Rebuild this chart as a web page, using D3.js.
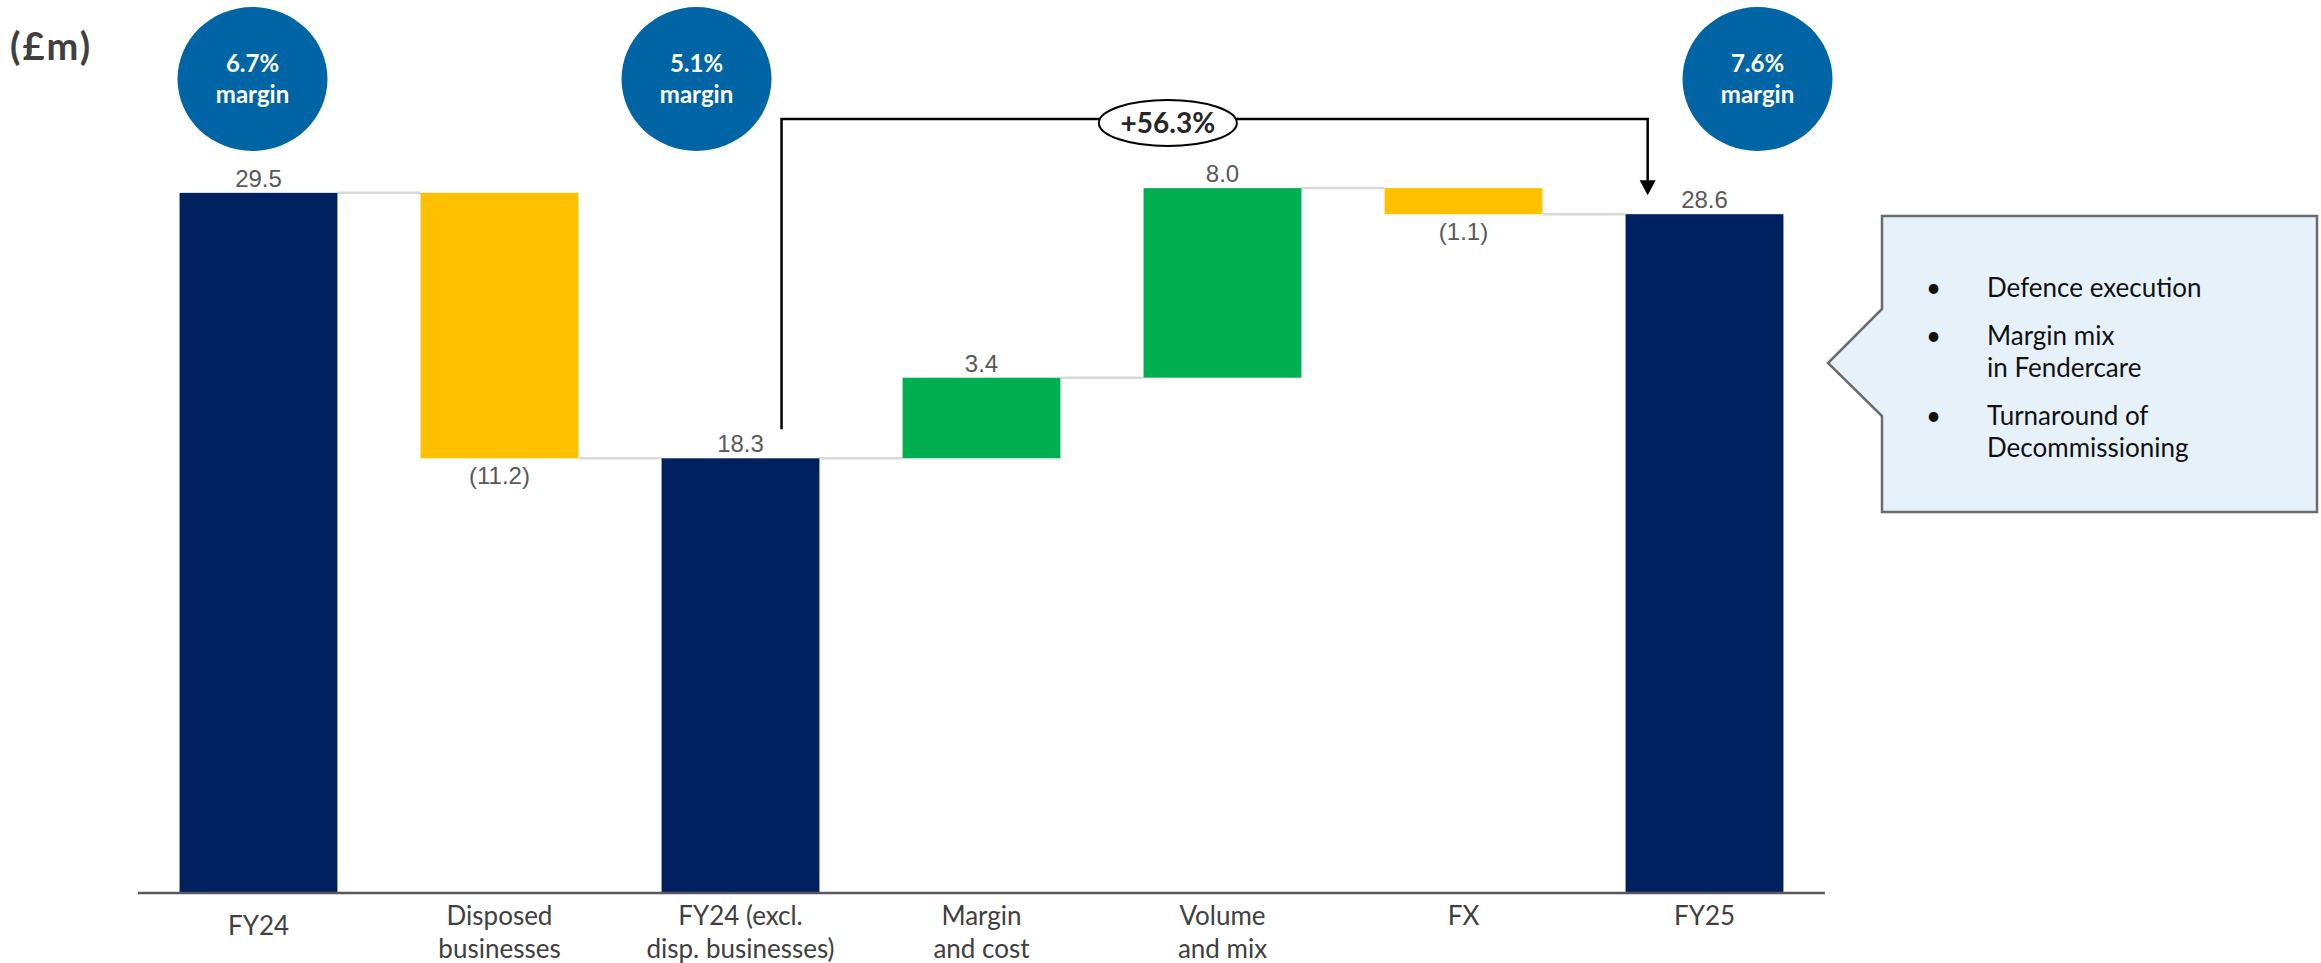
<!DOCTYPE html>
<html lang="en">
<head>
  <meta charset="UTF-8">
  <title>Underlying operating profit bridge</title>
  <script src="https://d3js.org/d3.v7.min.js"></script>
  <style>
    html, body { margin: 0; padding: 0; background: #fff; }
    svg { display: block; }
    .val { font-family: "Liberation Sans", Arial, sans-serif; font-size: 24px; fill: #595959; text-anchor: middle; }
    .cat { font-family: Lato, sans-serif; font-size: 26px; fill: #404040; text-anchor: middle; }
    .bubble-text { font-family: Lato, sans-serif; font-weight: bold; font-size: 24px; fill: #fff; text-anchor: middle; }
    .note { font-family: Lato, sans-serif; font-size: 26px; fill: #111; }
  </style>
</head>
<body>
  <svg width="2321" height="963"></svg>
  <script>
    // bridge data (£m)
    const categories = ["FY24", "Disposed businesses", "FY24 (excl. disp. businesses)", "Margin and cost", "Volume and mix", "FX", "FY25"];
    const labelLines = [["FY24"], ["Disposed", "businesses"], ["FY24 (excl.", "disp. businesses)"], ["Margin", "and cost"], ["Volume", "and mix"], ["FX"], ["FY25"]];
    const values = [29.5, -11.2, 18.3, 3.4, 8.0, -1.1, 28.6];
    const isTotal = [true, false, true, false, false, false, true];
    const valueLabels = ["29.5", "(11.2)", "18.3", "3.4", "8.0", "(1.1)", "28.6"];

    // margin bubbles
    const bubbleCats = ["FY24", "FY24 (excl. disp. businesses)", "FY25"];
    const bubbleText = ["6.7%", "5.1%", "7.6%"];
    const bubbleShift = [-6, -44, 53];

    const growthLabel = "+56.3%";
    const notes = [["Defence execution"], ["Margin mix", "in Fendercare"], ["Turnaround of", "Decommissioning"]];

    const colNavy = "#002060", colUp = "#00B050", colDown = "#FFC000";

    const svg = d3.select("svg");
    const x = d3.scaleBand().domain(categories).range([138, 1825]).paddingInner(0.345).paddingOuter(0.1725);
    const y = d3.scaleLinear().domain([0, 30]).range([892, 181]);

    // running totals
    let run = 0;
    const bars = categories.map((c, i) => {
      let y0, y1;
      if (isTotal[i]) { y0 = 0; y1 = values[i]; run = values[i]; }
      else { y0 = run; y1 = run + values[i]; run = y1; }
      return { cat: c, y0, y1, v: values[i], total: isTotal[i], label: valueLabels[i], end: run };
    });

    // connectors
    svg.append("g").selectAll("line").data(bars.slice(0, -1)).join("line")
      .attr("x1", d => x(d.cat) + x.bandwidth())
      .attr("x2", (d, i) => x(categories[i + 1]))
      .attr("y1", d => y(d.end)).attr("y2", d => y(d.end))
      .attr("stroke", "#d9d9d9").attr("stroke-width", 2.5);

    // bars
    svg.append("g").selectAll("rect").data(bars).join("rect")
      .attr("x", d => x(d.cat))
      .attr("width", x.bandwidth())
      .attr("y", d => y(Math.max(d.y0, d.y1)))
      .attr("height", d => Math.abs(y(d.y0) - y(d.y1)))
      .attr("fill", d => d.total ? colNavy : (d.v >= 0 ? colUp : colDown));

    // value labels
    svg.append("g").selectAll("text").data(bars).join("text")
      .attr("class", "val")
      .attr("x", d => x(d.cat) + x.bandwidth() / 2)
      .attr("y", d => d.v >= 0 ? y(Math.max(d.y0, d.y1)) - 6 : y(Math.min(d.y0, d.y1)) + 26)
      .text(d => d.label);

    // axis line
    svg.append("line").attr("x1", 138).attr("x2", 1825).attr("y1", y(0) + 1).attr("y2", y(0) + 1)
      .attr("stroke", "#595959").attr("stroke-width", 2.5);

    // category labels
    const cat = svg.append("g").selectAll("text").data(categories).join("text")
      .attr("class", "cat")
      .attr("x", d => x(d) + x.bandwidth() / 2)
      .attr("y", (d, i) => i === 0 ? 935 : 925);
    cat.selectAll("tspan").data((d, i) => labelLines[i]).join("tspan")
      .attr("x", function() { return this.parentNode.getAttribute("x"); })
      .attr("dy", (d, j) => j === 0 ? 0 : 33)
      .text(d => d);

    // (£m)
    svg.append("text").attr("x", 10).attr("y", 60)
      .style("font-family", "Lato, sans-serif").style("font-weight", "bold")
      .style("font-size", "38px").style("fill", "#404040").style("letter-spacing", "2px")
      .text("(£m)");

    // margin bubbles
    const bub = svg.append("g").selectAll("g").data(bubbleCats).join("g")
      .attr("transform", (d, i) => `translate(${x(d) + x.bandwidth() / 2 + bubbleShift[i]},79)`);
    bub.append("ellipse").attr("rx", 75).attr("ry", 72).attr("fill", "#0064A5");
    bub.append("text").attr("class", "bubble-text").attr("y", -7).text((d, i) => bubbleText[i]);
    bub.append("text").attr("class", "bubble-text").attr("y", 24).text("margin");

    // growth bracket
    const bx1 = x(categories[2]) + x.bandwidth() * 0.76;
    const bx2 = x(categories[6]) + x.bandwidth() * 0.14;
    const by = 119;
    svg.append("path")
      .attr("d", `M${bx1},${y(values[2]) - 29} V${by} H${bx2} V${y(values[6]) - 32}`)
      .attr("fill", "none").attr("stroke", "#000").attr("stroke-width", 2.5);
    svg.append("path")
      .attr("d", `M${bx2 - 8},${y(values[6]) - 34} L${bx2 + 8},${y(values[6]) - 34} L${bx2},${y(values[6]) - 19} Z`)
      .attr("fill", "#000");
    const gx = bx1 + (bx2 - bx1) * 0.446;
    svg.append("ellipse").attr("cx", gx).attr("cy", 123).attr("rx", 69).attr("ry", 23)
      .attr("fill", "#fff").attr("stroke", "#000").attr("stroke-width", 2);
    svg.append("text").attr("x", gx).attr("y", 133).attr("text-anchor", "middle")
      .style("font-family", "Lato, sans-serif").style("font-weight", "bold")
      .style("font-size", "28px").style("fill", "#262626")
      .text(growthLabel);

    // callout box
    svg.append("path")
      .attr("d", "M1882,216 H2317 V512 H1882 V416 L1828,363 L1882,309 Z")
      .attr("fill", "#E7F1FA").attr("stroke", "#6b6b6b").attr("stroke-width", 2.5);
    let ny = 297;
    notes.forEach(lines => {
      svg.append("text").attr("class", "note").attr("x", 1926).attr("y", ny).text("•");
      lines.forEach((l, j) => {
        svg.append("text").attr("class", "note").attr("x", 1987).attr("y", ny + j * 32).text(l);
      });
      ny += 48 + (lines.length - 1) * 32;
    });
  </script>
</body>
</html>
